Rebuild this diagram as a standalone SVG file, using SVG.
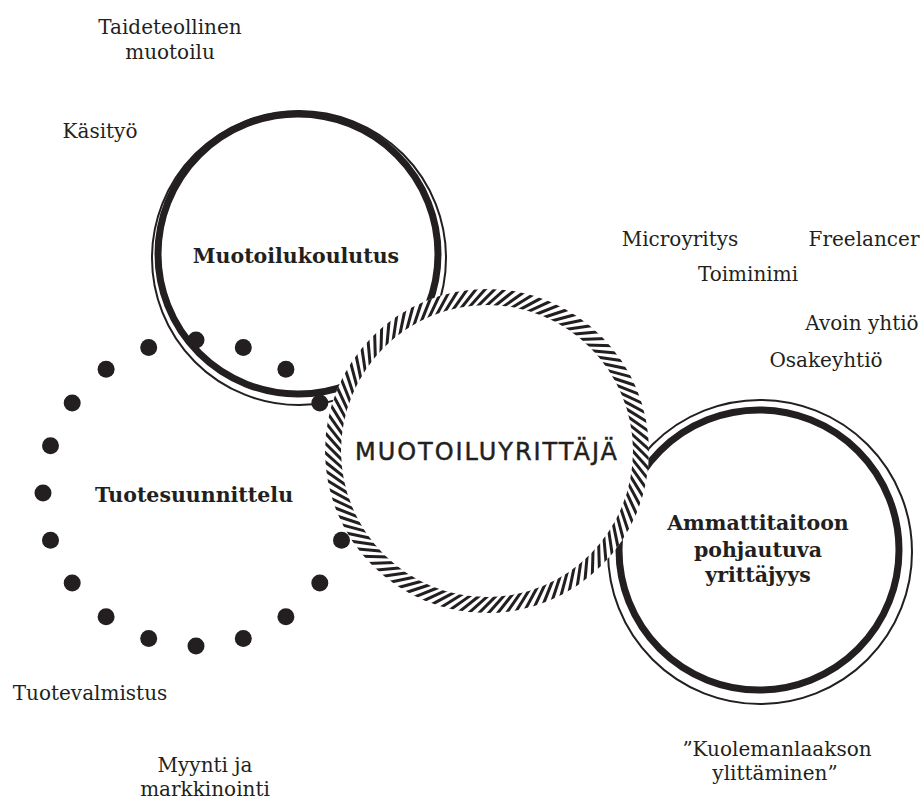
<svg xmlns="http://www.w3.org/2000/svg" xmlns:xlink="http://www.w3.org/1999/xlink" width="924" height="803" viewBox="0 0 924 803">
<style>
.lbl{font-family:"DejaVu Serif","Liberation Serif",serif;font-size:20px;fill:#231f20;text-anchor:middle}
.bold{font-family:"DejaVu Serif","Liberation Serif",serif;font-size:20.5px;font-weight:bold;fill:#231f20;text-anchor:middle}
.sans{font-family:"DejaVu Sans","Lato",sans-serif;font-size:24px;fill:#231f20;stroke:#231f20;stroke-width:0.45;text-anchor:middle}
.thick{fill:none;stroke:#231f20;stroke-width:7}
.thin{fill:none;stroke:#231f20;stroke-width:2}
.dot{fill:#231f20}
.hatch{stroke:#231f20;stroke-width:3}
</style>
<defs>
<line id="h" x1="477.1" y1="306.9" x2="496.9" y2="287.1"/>
<clipPath id="ring">
<path clip-rule="evenodd" d="M325,451 A162,162 0 1,0 649,451 A162,162 0 1,0 325,451 Z M341,451 A146,146 0 1,0 633,451 A146,146 0 1,0 341,451 Z"/>
</clipPath>
</defs>
<rect width="924" height="803" fill="#ffffff"/>

<g id="labels-top">
<text class="lbl" x="170" y="34">Taideteollinen</text>
<text class="lbl" x="170" y="59">muotoilu</text>
<text class="lbl" x="100" y="138">Käsityö</text>
</g>

<g id="node-muotoilukoulutus">
<circle class="thin" cx="299" cy="258" r="147"/>
<circle class="thick" cx="298" cy="254" r="140"/>
<text class="bold" x="296" y="263" font-size="20">Muotoilukoulutus</text>
</g>

<g id="node-tuotesuunnittelu">
<circle class="dot" cx="196" cy="340" r="8.5"/>
<circle class="dot" cx="243.3" cy="347.5" r="8.5"/>
<circle class="dot" cx="285.9" cy="369.2" r="8.5"/>
<circle class="dot" cx="319.8" cy="403.1" r="8.5"/>
<circle class="dot" cx="341.5" cy="540.3" r="8.5"/>
<circle class="dot" cx="319.8" cy="582.9" r="8.5"/>
<circle class="dot" cx="285.9" cy="616.8" r="8.5"/>
<circle class="dot" cx="243.3" cy="638.5" r="8.5"/>
<circle class="dot" cx="196" cy="646" r="8.5"/>
<circle class="dot" cx="148.7" cy="638.5" r="8.5"/>
<circle class="dot" cx="106.1" cy="616.8" r="8.5"/>
<circle class="dot" cx="72.2" cy="582.9" r="8.5"/>
<circle class="dot" cx="50.5" cy="540.3" r="8.5"/>
<circle class="dot" cx="43" cy="493" r="8.5"/>
<circle class="dot" cx="50.5" cy="445.7" r="8.5"/>
<circle class="dot" cx="72.2" cy="403.1" r="8.5"/>
<circle class="dot" cx="106.1" cy="369.2" r="8.5"/>
<circle class="dot" cx="148.7" cy="347.5" r="8.5"/>
<text class="bold" x="194" y="502">Tuotesuunnittelu</text>
</g>

<g id="node-ammattitaitoon">
<circle class="thin" cx="760" cy="552" r="152"/>
<circle class="thick" cx="759" cy="550" r="140" stroke-width="8"/>
<text class="bold" x="758" y="530">Ammattitaitoon</text>
<text class="bold" x="758" y="557">pohjautuva</text>
<text class="bold" x="758" y="582">yrittäjyys</text>
</g>

<g id="node-muotoiluyrittaja">
<circle cx="487" cy="451" r="162" fill="#ffffff"/>
<g class="hatch" clip-path="url(#ring)">
<use href="#h" transform="rotate(0 487 451)"/>
<use href="#h" transform="rotate(3.33 487 451)"/>
<use href="#h" transform="rotate(6.67 487 451)"/>
<use href="#h" transform="rotate(10 487 451)"/>
<use href="#h" transform="rotate(13.33 487 451)"/>
<use href="#h" transform="rotate(16.67 487 451)"/>
<use href="#h" transform="rotate(20 487 451)"/>
<use href="#h" transform="rotate(23.33 487 451)"/>
<use href="#h" transform="rotate(26.67 487 451)"/>
<use href="#h" transform="rotate(30 487 451)"/>
<use href="#h" transform="rotate(33.33 487 451)"/>
<use href="#h" transform="rotate(36.67 487 451)"/>
<use href="#h" transform="rotate(40 487 451)"/>
<use href="#h" transform="rotate(43.33 487 451)"/>
<use href="#h" transform="rotate(46.67 487 451)"/>
<use href="#h" transform="rotate(50 487 451)"/>
<use href="#h" transform="rotate(53.33 487 451)"/>
<use href="#h" transform="rotate(56.67 487 451)"/>
<use href="#h" transform="rotate(60 487 451)"/>
<use href="#h" transform="rotate(63.33 487 451)"/>
<use href="#h" transform="rotate(66.67 487 451)"/>
<use href="#h" transform="rotate(70 487 451)"/>
<use href="#h" transform="rotate(73.33 487 451)"/>
<use href="#h" transform="rotate(76.67 487 451)"/>
<use href="#h" transform="rotate(80 487 451)"/>
<use href="#h" transform="rotate(83.33 487 451)"/>
<use href="#h" transform="rotate(86.67 487 451)"/>
<use href="#h" transform="rotate(90 487 451)"/>
<use href="#h" transform="rotate(93.33 487 451)"/>
<use href="#h" transform="rotate(96.67 487 451)"/>
<use href="#h" transform="rotate(100 487 451)"/>
<use href="#h" transform="rotate(103.33 487 451)"/>
<use href="#h" transform="rotate(106.67 487 451)"/>
<use href="#h" transform="rotate(110 487 451)"/>
<use href="#h" transform="rotate(113.33 487 451)"/>
<use href="#h" transform="rotate(116.67 487 451)"/>
<use href="#h" transform="rotate(120 487 451)"/>
<use href="#h" transform="rotate(123.33 487 451)"/>
<use href="#h" transform="rotate(126.67 487 451)"/>
<use href="#h" transform="rotate(130 487 451)"/>
<use href="#h" transform="rotate(133.33 487 451)"/>
<use href="#h" transform="rotate(136.67 487 451)"/>
<use href="#h" transform="rotate(140 487 451)"/>
<use href="#h" transform="rotate(143.33 487 451)"/>
<use href="#h" transform="rotate(146.67 487 451)"/>
<use href="#h" transform="rotate(150 487 451)"/>
<use href="#h" transform="rotate(153.33 487 451)"/>
<use href="#h" transform="rotate(156.67 487 451)"/>
<use href="#h" transform="rotate(160 487 451)"/>
<use href="#h" transform="rotate(163.33 487 451)"/>
<use href="#h" transform="rotate(166.67 487 451)"/>
<use href="#h" transform="rotate(170 487 451)"/>
<use href="#h" transform="rotate(173.33 487 451)"/>
<use href="#h" transform="rotate(176.67 487 451)"/>
<use href="#h" transform="rotate(180 487 451)"/>
<use href="#h" transform="rotate(183.33 487 451)"/>
<use href="#h" transform="rotate(186.67 487 451)"/>
<use href="#h" transform="rotate(190 487 451)"/>
<use href="#h" transform="rotate(193.33 487 451)"/>
<use href="#h" transform="rotate(196.67 487 451)"/>
<use href="#h" transform="rotate(200 487 451)"/>
<use href="#h" transform="rotate(203.33 487 451)"/>
<use href="#h" transform="rotate(206.67 487 451)"/>
<use href="#h" transform="rotate(210 487 451)"/>
<use href="#h" transform="rotate(213.33 487 451)"/>
<use href="#h" transform="rotate(216.67 487 451)"/>
<use href="#h" transform="rotate(220 487 451)"/>
<use href="#h" transform="rotate(223.33 487 451)"/>
<use href="#h" transform="rotate(226.67 487 451)"/>
<use href="#h" transform="rotate(230 487 451)"/>
<use href="#h" transform="rotate(233.33 487 451)"/>
<use href="#h" transform="rotate(236.67 487 451)"/>
<use href="#h" transform="rotate(240 487 451)"/>
<use href="#h" transform="rotate(243.33 487 451)"/>
<use href="#h" transform="rotate(246.67 487 451)"/>
<use href="#h" transform="rotate(250 487 451)"/>
<use href="#h" transform="rotate(253.33 487 451)"/>
<use href="#h" transform="rotate(256.67 487 451)"/>
<use href="#h" transform="rotate(260 487 451)"/>
<use href="#h" transform="rotate(263.33 487 451)"/>
<use href="#h" transform="rotate(266.67 487 451)"/>
<use href="#h" transform="rotate(270 487 451)"/>
<use href="#h" transform="rotate(273.33 487 451)"/>
<use href="#h" transform="rotate(276.67 487 451)"/>
<use href="#h" transform="rotate(280 487 451)"/>
<use href="#h" transform="rotate(283.33 487 451)"/>
<use href="#h" transform="rotate(286.67 487 451)"/>
<use href="#h" transform="rotate(290 487 451)"/>
<use href="#h" transform="rotate(293.33 487 451)"/>
<use href="#h" transform="rotate(296.67 487 451)"/>
<use href="#h" transform="rotate(300 487 451)"/>
<use href="#h" transform="rotate(303.33 487 451)"/>
<use href="#h" transform="rotate(306.67 487 451)"/>
<use href="#h" transform="rotate(310 487 451)"/>
<use href="#h" transform="rotate(313.33 487 451)"/>
<use href="#h" transform="rotate(316.67 487 451)"/>
<use href="#h" transform="rotate(320 487 451)"/>
<use href="#h" transform="rotate(323.33 487 451)"/>
<use href="#h" transform="rotate(326.67 487 451)"/>
<use href="#h" transform="rotate(330 487 451)"/>
<use href="#h" transform="rotate(333.33 487 451)"/>
<use href="#h" transform="rotate(336.67 487 451)"/>
<use href="#h" transform="rotate(340 487 451)"/>
<use href="#h" transform="rotate(343.33 487 451)"/>
<use href="#h" transform="rotate(346.67 487 451)"/>
<use href="#h" transform="rotate(350 487 451)"/>
<use href="#h" transform="rotate(353.33 487 451)"/>
<use href="#h" transform="rotate(356.67 487 451)"/>
</g>
<text class="sans" x="486" y="460" textLength="262" lengthAdjust="spacing">MUOTOILUYRITTÄJÄ</text>
</g>

<g id="labels-right">
<text class="lbl" x="680" y="246">Microyritys</text>
<text class="lbl" x="864" y="246">Freelancer</text>
<text class="lbl" x="748" y="281">Toiminimi</text>
<text class="lbl" x="862" y="330">Avoin yhtiö</text>
<text class="lbl" x="826" y="367">Osakeyhtiö</text>
</g>

<g id="labels-bottom">
<text class="lbl" x="90" y="700">Tuotevalmistus</text>
<text class="lbl" x="205" y="772">Myynti ja</text>
<text class="lbl" x="205" y="796">markkinointi</text>
<text class="lbl" x="777" y="756">”Kuolemanlaakson</text>
<text class="lbl" x="775" y="780">ylittäminen”</text>
</g>
</svg>
